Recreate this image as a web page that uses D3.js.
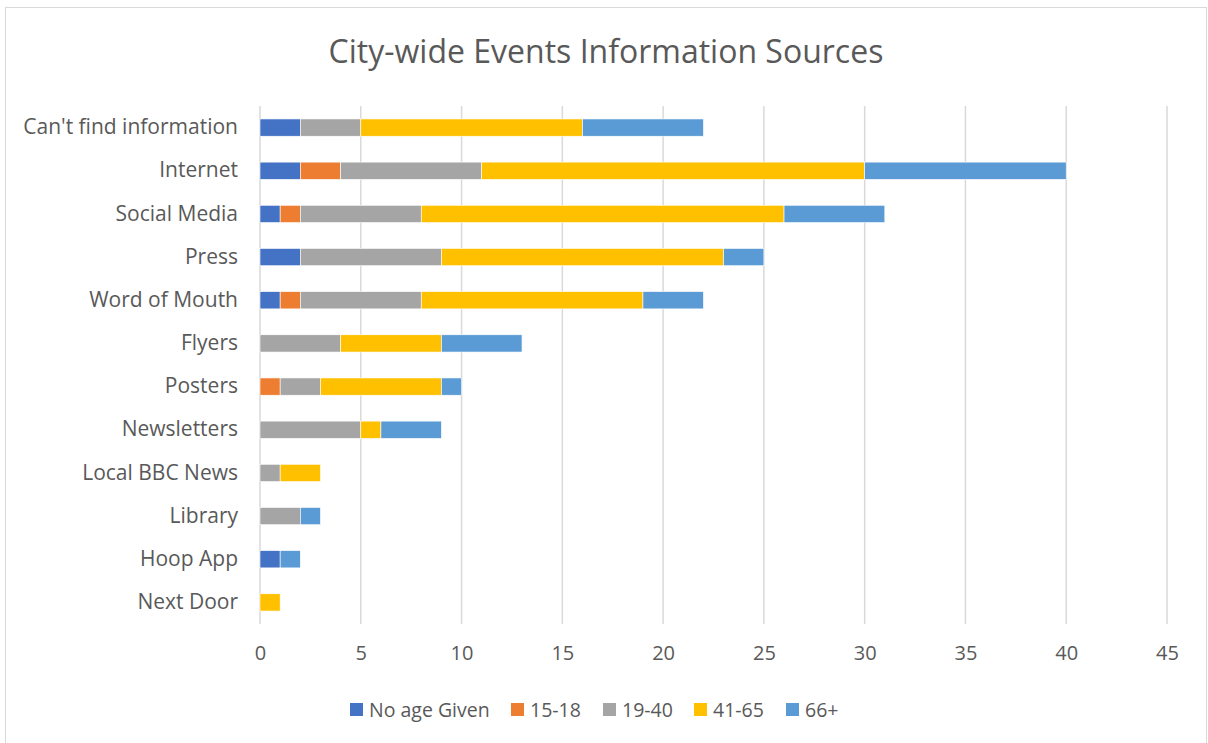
<!DOCTYPE html>
<html>
<head>
<meta charset="utf-8">
<script src="https://cdn.jsdelivr.net/npm/d3@7"></script>
<style>
  body { margin: 0; background: #fff; }
  text { font-family: "Open Sans", Lato, sans-serif; fill: #595959; }
</style>
</head>
<body>
<svg id="chart" width="1208" height="743"></svg>
<script>
    /*
    Chart data
     */
    var categories = ["Can't find information", "Internet", "Social Media", "Press", "Word of Mouth",
        "Flyers", "Posters", "Newsletters", "Local BBC News", "Library", "Hoop App", "Next Door"];
    var seriesNames = ["No age Given", "15-18", "19-40", "41-65", "66+"];
    var seriesColors = ["#4472C4", "#ED7D31", "#A5A5A5", "#FFC000", "#5B9BD5"];

    var noAgeGiven = [2, 2, 1, 2, 1, 0, 0, 0, 0, 0, 1, 0];
    var age15to18  = [0, 2, 1, 0, 1, 0, 1, 0, 0, 0, 0, 0];
    var age19to40  = [3, 7, 6, 7, 6, 4, 2, 5, 1, 2, 0, 0];
    var age41to65  = [11, 19, 18, 14, 11, 5, 6, 1, 2, 0, 0, 1];
    var age66plus  = [6, 10, 5, 2, 3, 4, 1, 3, 0, 1, 1, 0];
    var xTicks = [0, 5, 10, 15, 20, 25, 30, 35, 40, 45];

    var svg = d3.select("#chart");
    var margin = {left: 260, right: 41, top: 106, bottom: 119};
    var width = 1208 - margin.left - margin.right;
    var height = 743 - margin.top - margin.bottom;

    // chart border
    svg.append("rect")
        .attr("x", 5.5).attr("y", 7.5)
        .attr("width", 1201).attr("height", 745)
        .attr("fill", "none").attr("stroke", "#d9d9d9");

    // title
    svg.append("text")
        .attr("x", 606).attr("y", 63)
        .attr("text-anchor", "middle")
        .style("font-size", "32px")
        .text("City-wide Events Information Sources");

    var table = categories.map(function(c, i) {
        return {cat: c, "No age Given": noAgeGiven[i], "15-18": age15to18[i],
            "19-40": age19to40[i], "41-65": age41to65[i], "66+": age66plus[i]};
    });

    var x = d3.scaleLinear().domain([0, 45]).range([0, width]);
    var y = d3.scaleBand().domain(categories).range([0, height]).paddingInner(0.6).paddingOuter(0.3);
    var color = d3.scaleOrdinal().domain(seriesNames).range(seriesColors);

    var g = svg.append("g").attr("transform", "translate(" + margin.left + "," + margin.top + ")");

    // gridlines
    g.selectAll(".grid").data(xTicks).enter().append("line")
        .attr("x1", function(d){ return x(d); })
        .attr("x2", function(d){ return x(d); })
        .attr("y1", 0).attr("y2", height)
        .attr("stroke", "#d9d9d9").attr("stroke-width", 1.5);

    var stack = d3.stack().keys(seriesNames)(table);

    g.selectAll(".series").data(stack).enter().append("g")
        .attr("fill", function(d){ return color(d.key); })
        .selectAll("rect").data(function(d){ return d; }).enter()
        .filter(function(d){ return d[1] - d[0] > 0; })
        .append("rect")
        .attr("x", function(d){ return x(d[0]); })
        .attr("width", function(d){ return x(d[1]) - x(d[0]); })
        .attr("y", function(d){ return y(d.data.cat); })
        .attr("height", y.bandwidth())
        .attr("stroke", "#fff").attr("stroke-width", 0.6);

    // category axis
    var yAxis = g.append("g").call(d3.axisLeft(y).tickSize(0).tickPadding(22));
    yAxis.select(".domain").remove();
    yAxis.selectAll("text").style("font-size", "21px").attr("fill", "#595959");

    // value axis
    var xAxis = g.append("g").attr("transform", "translate(0," + height + ")")
        .call(d3.axisBottom(x).tickValues(xTicks).tickSize(0).tickPadding(22));
    xAxis.select(".domain").remove();
    xAxis.selectAll("text").style("font-size", "20px").attr("fill", "#595959");

    // legend
    var legendX = [350, 511, 603, 694, 786];
    var legend = svg.selectAll(".legend").data(seriesNames).enter().append("g")
        .attr("transform", function(d, i){ return "translate(" + legendX[i] + ",703)"; });
    legend.append("rect").attr("width", 13).attr("height", 13)
        .attr("fill", function(d){ return color(d); });
    legend.append("text").attr("x", 19).attr("y", 14)
        .style("font-size", "19.5px")
        .text(function(d){ return d; });
</script>
</body>
</html>
